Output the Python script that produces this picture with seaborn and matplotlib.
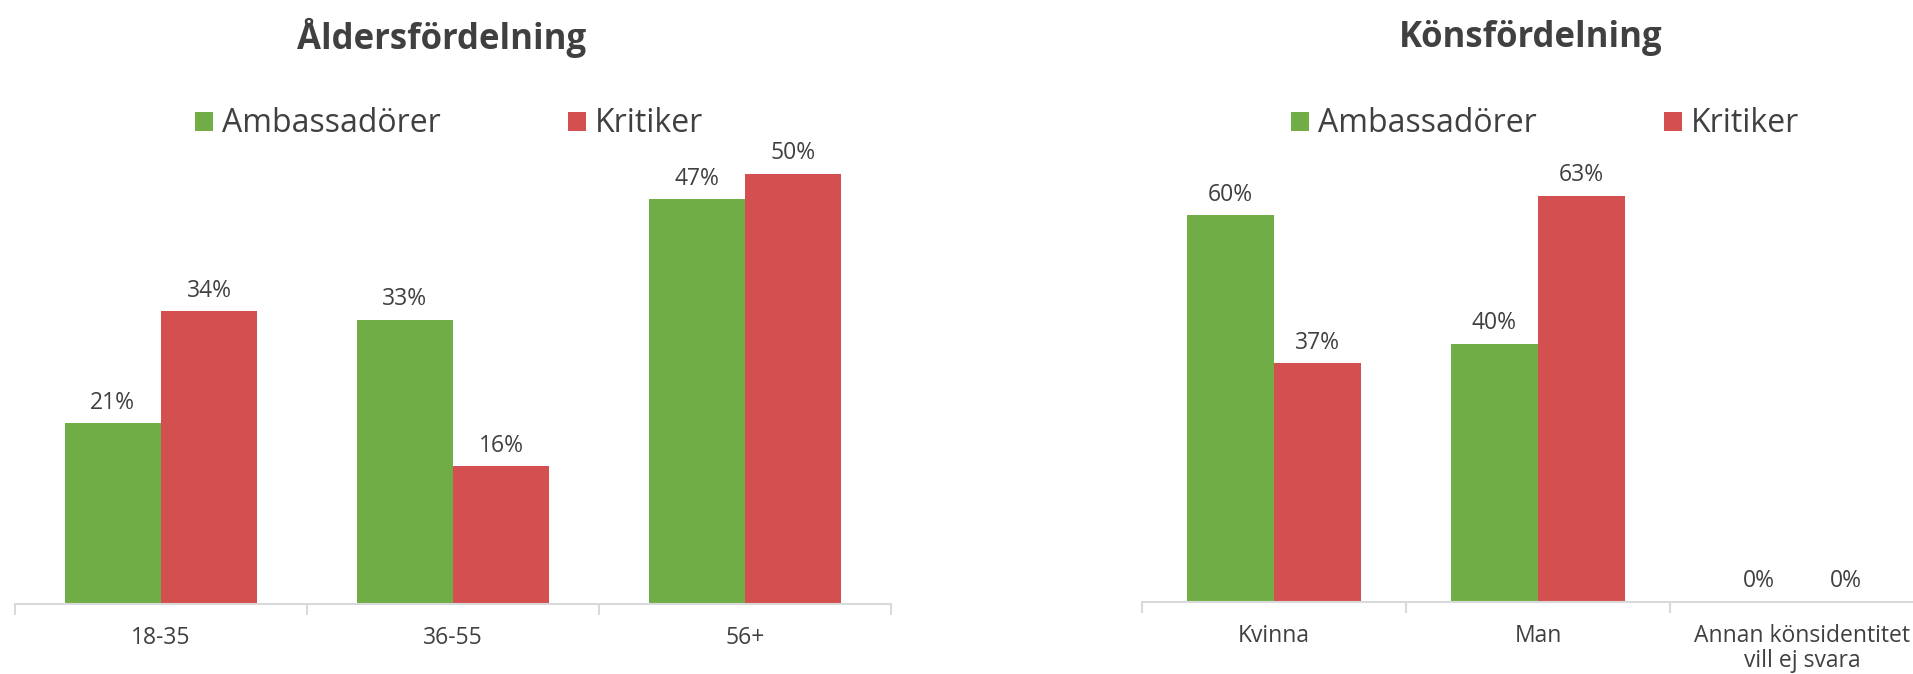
import matplotlib
matplotlib.use("Agg")
import matplotlib.pyplot as plt
import pandas as pd
import seaborn as sns

# --- data -------------------------------------------------------------
groups = ["Ambassadörer", "Kritiker"]

age_categories = ["18-35", "36-55", "56+"]
age_ambassadors = [21, 33, 47]
age_critics = [34, 16, 50]

gender_categories = ["Kvinna", "Man", "Annan könsidentitet\nvill ej svara"]
gender_ambassadors = [60, 40, 0]
gender_critics = [37, 63, 0]

titles = ["Åldersfördelning", "Könsfördelning"]
colors = {"Ambassadörer": "#70AD47", "Kritiker": "#D34F50"}

# --- style ------------------------------------------------------------
sns.set_theme(style="white")
plt.rcParams["font.family"] = ["Open Sans", "DejaVu Sans"]
TEXT = "#404040"
AXIS = "#d9d9d9"


def long_frame(categories, amb, crit):
    return pd.DataFrame({
        "kategori": categories * 2,
        "andel": amb + crit,
        "grupp": [groups[0]] * len(categories) + [groups[1]] * len(categories),
    })


W, H = 1913, 674
fig = plt.figure(figsize=(W / 100, H / 100), dpi=100)

# axes rectangles in pixels: left, baseline(from top), width, height
specs = [
    dict(left=15, base=603.5, width=876, height=516, ymax=60,
         cats=age_categories, amb=age_ambassadors, crit=age_critics,
         title=titles[0], title_x=442, legend_x=449),
    dict(left=1142, base=601.5, width=792, height=451, ymax=70,
         cats=gender_categories, amb=gender_ambassadors, crit=gender_critics,
         title=titles[1], title_x=1531, legend_x=1545),
]

for s in specs:
    ax = fig.add_axes([s["left"] / W, (H - s["base"]) / H,
                       s["width"] / W, s["height"] / H])
    df = long_frame(s["cats"], s["amb"], s["crit"])
    sns.barplot(data=df, x="kategori", y="andel", hue="grupp",
                hue_order=groups, palette=colors, width=0.66, gap=0,
                saturation=1, errorbar=None, linewidth=0, ax=ax)

    for cont in ax.containers:
        ax.bar_label(cont, labels=[f"{v:.0f}%" for v in cont.datavalues],
                     padding=6, fontsize=16.5, color=TEXT)

    ax.set_xlim(-0.5, 2.5)
    ax.set_ylim(0, s["ymax"])
    ax.set_xlabel("")
    ax.set_ylabel("")
    ax.set_yticks([])
    for side in ["left", "right", "top"]:
        ax.spines[side].set_visible(False)
    ax.spines["bottom"].set_color(AXIS)
    ax.spines["bottom"].set_linewidth(1.5)

    ax.set_xticks([-0.5, 0.5, 1.5, 2.5], minor=True)
    ax.tick_params(axis="x", which="minor", length=8, width=1.5,
                   color=AXIS, direction="out", bottom=True)
    ax.tick_params(axis="x", which="major", length=0, pad=16,
                   labelsize=16.5, labelcolor=TEXT)
    for lbl in ax.get_xticklabels():
        lbl.set_linespacing(1.05)

    ax.legend_.remove()
    handles, labels = ax.get_legend_handles_labels()
    fig.legend(handles, labels, loc="center", ncol=2,
               bbox_to_anchor=(s["legend_x"] / W, 1 - 124 / H),
               bbox_transform=fig.transFigure, frameon=False,
               fontsize=23, labelcolor=TEXT, handlelength=0.55,
               handleheight=0.55, handletextpad=0.28, columnspacing=4.0,
               borderpad=0, borderaxespad=0)

    fig.text(s["title_x"] / W, 1 - 38 / H, s["title"], ha="center",
             va="center", fontsize=25, fontweight="bold", color=TEXT)

fig.savefig("out.png", dpi=100)
